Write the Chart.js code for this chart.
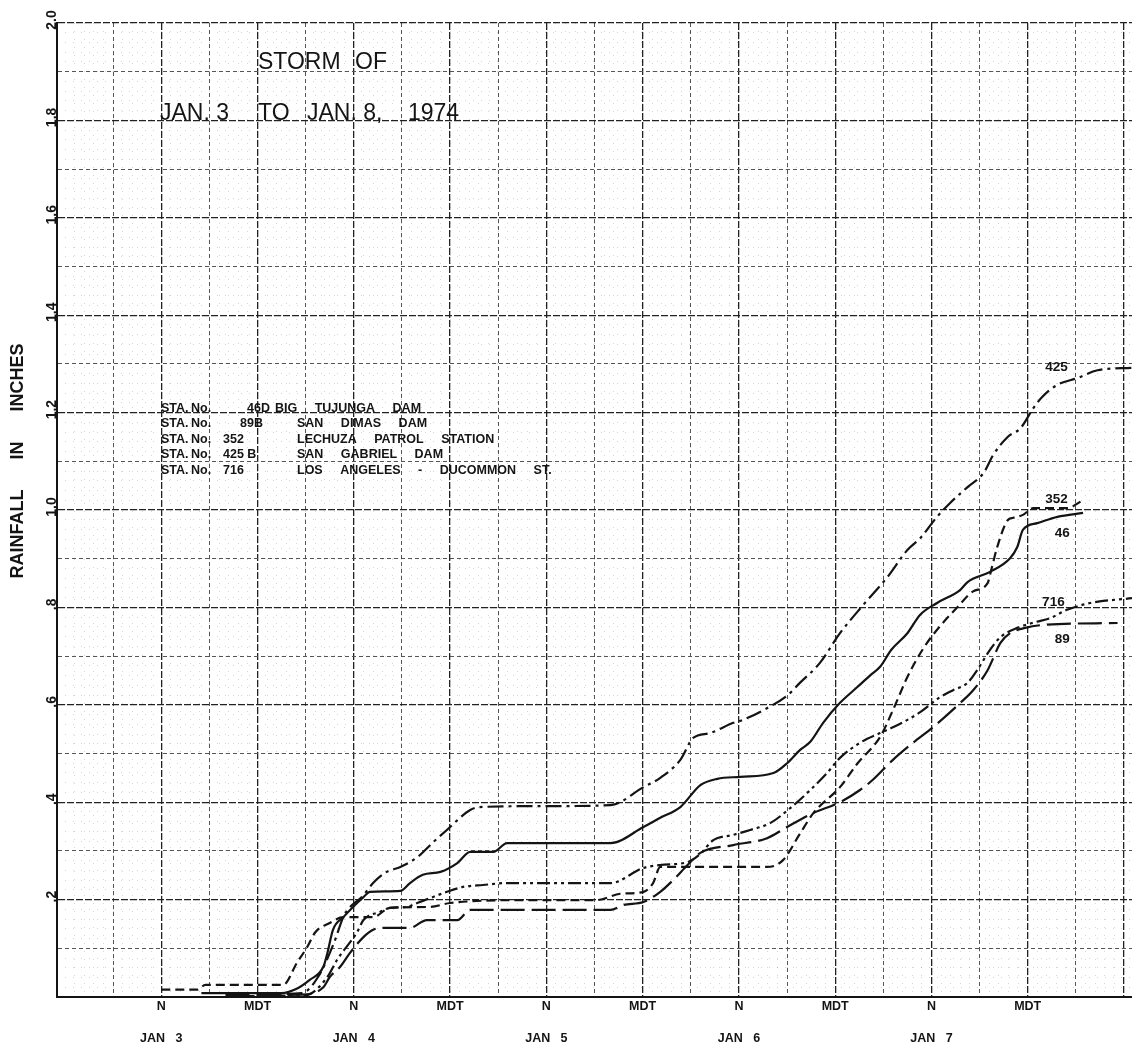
<!DOCTYPE html>
<html>
<head>
<meta charset="utf-8">
<title>Storm of Jan. 3 to Jan. 8, 1974</title>
<script src="https://cdn.jsdelivr.net/npm/chart.js@4.4.1/dist/chart.umd.min.js"></script>
<style>
  html, body { margin: 0; padding: 0; background: #fff; }
  #wrap { width: 1132px; height: 1048px; }
</style>
</head>
<body>
<div id="wrap"><canvas id="rain" width="1132" height="1048"></canvas></div>
<script>
// x = hours after midnight starting Jan 3 (MDT), y = accumulated rainfall in inches
const sta46 = [
  [17, 0.008], [27, 0.008], [29, 0.018], [30.5, 0.035], [32.2, 0.062], [32.7, 0.09], [33.4, 0.138],
  [34.7, 0.164], [35.9, 0.185], [37.2, 0.205], [38, 0.216], [41.8, 0.218], [43, 0.234], [44.6, 0.251],
  [46.8, 0.257], [48.9, 0.275], [50.5, 0.298], [53.4, 0.298], [55.1, 0.316], [68, 0.316], [72.1, 0.349],
  [74.2, 0.368], [76.7, 0.39], [79.2, 0.435], [81.3, 0.448], [84.2, 0.452], [88.3, 0.46], [90, 0.48],
  [91.6, 0.507], [92.9, 0.524], [94.5, 0.563], [96.6, 0.604], [98.8, 0.637], [100.4, 0.661], [101.6, 0.678],
  [103, 0.713], [105, 0.747], [106.6, 0.785], [108.7, 0.809], [111.6, 0.836], [112.5, 0.852], [115.3, 0.873],
  [117.8, 0.901], [118.7, 0.924], [119.4, 0.959], [121.2, 0.973], [123.7, 0.986], [126.9, 0.994]
];
const sta89 = [
  [20, 0.004], [29.5, 0.005], [32.2, 0.02], [33, 0.041], [34.3, 0.062], [35.5, 0.09], [37.2, 0.123],
  [38.4, 0.138], [39.6, 0.142], [43, 0.142], [45.1, 0.158], [48.9, 0.158], [50.5, 0.179], [68, 0.179],
  [69.6, 0.189], [72.1, 0.195], [74.2, 0.216], [75.8, 0.24], [77.6, 0.271], [79.2, 0.296], [83.3, 0.312],
  [87.5, 0.326], [90, 0.349], [93.3, 0.378], [96.6, 0.4], [99.1, 0.425], [100.7, 0.446], [103.2, 0.487],
  [105.7, 0.522], [108.2, 0.554], [111.6, 0.604], [113.2, 0.63], [115, 0.671], [116.6, 0.727],
  [117.8, 0.747], [119.7, 0.758], [122, 0.764], [131.2, 0.768]
];
const sta352 = [
  [12, 0.015], [16.5, 0.015], [17.5, 0.025], [27.2, 0.025], [28.9, 0.07], [30.2, 0.103], [31.2, 0.133],
  [33, 0.152], [34.7, 0.164], [38.4, 0.164], [40.5, 0.183], [45.5, 0.185], [48, 0.193], [58, 0.199],
  [66.3, 0.199], [69.2, 0.212], [72.1, 0.216], [73.3, 0.234], [74.2, 0.267], [87.5, 0.267], [89.5, 0.281],
  [91.6, 0.335], [93.3, 0.378], [96.6, 0.431], [98.8, 0.48], [101.6, 0.534], [103.2, 0.589], [105, 0.657],
  [107, 0.716], [108.7, 0.754], [111.2, 0.8], [113.2, 0.833], [115, 0.85], [115.5, 0.88], [116.2, 0.924],
  [117.5, 0.979], [118.2, 0.984], [119.4, 0.99], [120.7, 1.004], [124.9, 1.004], [126.9, 1.02]
];
const sta425 = [
  [24, 0.006], [29.5, 0.008], [31.5, 0.04], [33.5, 0.11], [34.8, 0.168], [37.2, 0.209], [38.4, 0.234],
  [40.1, 0.257], [41.8, 0.267], [43.9, 0.287], [45.9, 0.318], [47.6, 0.343], [50.5, 0.384], [51.7, 0.39],
  [60.1, 0.392], [68, 0.394], [72.1, 0.431], [74.2, 0.45], [76.7, 0.487], [78.3, 0.532], [80.4, 0.542],
  [83.3, 0.563], [84.5, 0.569], [87.5, 0.593], [90.1, 0.62], [91.6, 0.645], [94.1, 0.686], [96.6, 0.747],
  [99.5, 0.805], [102.5, 0.862], [105, 0.918], [106.6, 0.942], [108.7, 0.986], [110.3, 1.014],
  [112.5, 1.047], [114.5, 1.076], [115.7, 1.113], [117.5, 1.15], [119.1, 1.168], [120.7, 1.209],
  [121.8, 1.232], [123.7, 1.257], [126.2, 1.271], [128.7, 1.287], [133, 1.292]
];
const sta716 = [
  [22, 0.002], [30, 0.004], [32.7, 0.041], [33.9, 0.076], [36.4, 0.133], [37.2, 0.158], [39.3, 0.175],
  [40.5, 0.183], [42.6, 0.185], [43.9, 0.193], [45.5, 0.203], [47.6, 0.216], [49.6, 0.226], [52.1, 0.23],
  [55.1, 0.234], [68, 0.234], [72.1, 0.265], [74.2, 0.271], [77.6, 0.277], [79.2, 0.294], [80.8, 0.322],
  [83.3, 0.333], [85.4, 0.343], [87.9, 0.357], [90.4, 0.388], [92.9, 0.425], [95, 0.46], [96.6, 0.491],
  [99.1, 0.522], [101.6, 0.542], [103.2, 0.554], [105, 0.569], [106.6, 0.585], [109.1, 0.616],
  [110.7, 0.63], [112.5, 0.645], [113.7, 0.671], [115.3, 0.713], [116.6, 0.739], [118.7, 0.758],
  [121, 0.77], [122.8, 0.778], [124.9, 0.795], [127.8, 0.809], [133, 0.819]
];

// axis ticks
const gridHours = [6, 12, 18, 24, 30, 36, 42, 48, 54, 60, 66, 72, 78, 84, 90, 96, 102, 108, 114, 120, 126, 132];
const timeTickHours = [12, 24, 36, 48, 60, 72, 84, 96, 108, 120];
const timeTickLabels = ['N', 'MDT', 'N', 'MDT', 'N', 'MDT', 'N', 'MDT', 'N', 'MDT'];
const dayHours = [12, 36, 60, 84, 108];
const dayLabels = ['JAN   3', 'JAN   4', 'JAN   5', 'JAN   6', 'JAN   7'];
const yGrid = [0, 0.1, 0.2, 0.3, 0.4, 0.5, 0.6, 0.7, 0.8, 0.9, 1.0, 1.1, 1.2, 1.3, 1.4, 1.5, 1.6, 1.7, 1.8, 1.9, 2.0];
const yTickValues = [0.2, 0.4, 0.6, 0.8, 1.0, 1.2, 1.4, 1.6, 1.8, 2.0];
const yTickLabels = ['.2', '.4', '.6', '.8', '1.0', '1.2', '1.4', '1.6', '1.8', '2.0'];

// station labels written next to the curve ends (hour, inches)
const endLabels = [['425', 123.6, 1.294], ['352', 123.6, 1.021], ['46', 124.3, 0.953], ['716', 123.2, 0.811], ['89', 124.3, 0.735]];
const stationRows = [
  ['STA.', 'No.', '46D', 'BIG TUJUNGA DAM'],
  ['STA.', 'No.', '89B', 'SAN DIMAS DAM'],
  ['STA.', 'No.', '352', 'LECHUZA PATROL STATION'],
  ['STA.', 'No.', '425 B', 'SAN GABRIEL DAM'],
  ['STA.', 'No.', '716', 'LOS ANGELES - DUCOMMON ST.']
];

const near = (a, b) => Math.abs(a - b) < 1e-6;
const isMajorHour = v => near(v % 12, 0);
const isMajorInch = v => near(Math.round(v * 10) % 2, 0);

function timeLabel(v) {
  const i = timeTickHours.findIndex(h => near(h, v));
  if (i < 0) return '';
  const d = dayHours.findIndex(h => near(h, v));
  return d < 0 ? timeTickLabels[i] : [timeTickLabels[i], '', dayLabels[d]];
}

const ink = '#141414';
const font = '"Liberation Sans", Arial, sans-serif';

const paperText = {
  id: 'paperText',
  afterDraw(chart) {
    const { ctx, scales: { x, y } } = chart;
    ctx.save();
    ctx.fillStyle = ink;

    // y tick labels, turned like on the sheet
    ctx.font = 'bold 14px ' + font;
    ctx.textAlign = 'center';
    ctx.textBaseline = 'middle';
    yTickValues.forEach((v, i) => {
      ctx.save();
      ctx.translate(52, y.getPixelForValue(v) - 3);
      ctx.rotate(-Math.PI / 2);
      ctx.fillText(yTickLabels[i], 0, 0);
      ctx.restore();
    });

    // axis title
    ctx.save();
    ctx.translate(18, 461);
    ctx.rotate(-Math.PI / 2);
    ctx.font = 'bold 18px ' + font;
    ctx.wordSpacing = '25px';
    ctx.fillText('RAINFALL IN INCHES', 0, 0);
    ctx.restore();

    // heading
    ctx.textAlign = 'left';
    ctx.textBaseline = 'alphabetic';
    ctx.font = '23px ' + font;
    ctx.fillText('STORM', 258, 69);
    ctx.fillText('OF', 355, 69);
    ctx.fillText('JAN. 3', 160, 120);
    ctx.fillText('TO', 258, 120);
    ctx.fillText('JAN. 8,', 307, 120);
    ctx.fillText('1974', 408, 120);

    // station list
    ctx.font = 'bold 12.5px ' + font;
    const numX = [247, 240, 223, 223, 223];
    const nameX = [275, 297, 297, 297, 297];
    stationRows.forEach((r, i) => {
      const by = 411.5 + i * 15.5;
      ctx.fillText(r[0], 161, by);
      ctx.fillText(r[1], 191, by);
      ctx.fillText(r[2], numX[i], by);
      ctx.wordSpacing = '14px';
      ctx.fillText(r[3], nameX[i], by);
      ctx.wordSpacing = '0px';
    });

    // curve labels
    ctx.font = 'bold 13.5px ' + font;
    ctx.textAlign = 'center';
    ctx.textBaseline = 'middle';
    endLabels.forEach(([t, h, v]) => ctx.fillText(t, x.getPixelForValue(h), y.getPixelForValue(v)));
    ctx.restore();
  }
};

const series = (label, pts, dash) => ({
  label,
  data: pts.map(([h, v]) => ({ x: h, y: v })),
  borderColor: ink,
  borderWidth: 2.2,
  borderDash: dash,
  pointRadius: 0,
  fill: false,
  cubicInterpolationMode: 'monotone'
});

const minorTicks = (lo, hi, step) => {
  const t = [];
  for (let v = lo; v <= hi + 1e-9; v += step) t.push({ value: v });
  return t;
};

new Chart(document.getElementById('rain'), {
  type: 'line',
  data: {
    datasets: [
      series('46D Big Tujunga Dam', sta46, []),
      series('89B San Dimas Dam', sta89, [24, 7]),
      series('352 Lechuza Patrol Station', sta352, [9, 5]),
      series('425B San Gabriel Dam', sta425, [16, 5, 3, 5]),
      series('716 Los Angeles - Ducommon St.', sta716, [13, 4, 3, 4, 3, 4])
    ]
  },
  options: {
    responsive: false,
    devicePixelRatio: 1,
    animation: false,
    layout: { padding: { top: 23, right: 0, left: 0, bottom: 0 } },
    plugins: { legend: { display: false }, tooltip: { enabled: false } },
    scales: {
      xMinor: {
        type: 'linear', position: 'bottom', min: -1, max: 133,
        afterBuildTicks: a => { a.ticks = minorTicks(1.2, 133, 1.2); },
        afterFit: a => { a.height = 0; },
        ticks: { display: false },
        grid: { drawTicks: false, color: 'rgba(0,0,0,0.16)', lineWidth: 1 },
        border: { display: false, dash: [1, 7] }
      },
      yMinor: {
        type: 'linear', position: 'left', min: 0, max: 2,
        afterBuildTicks: a => { a.ticks = minorTicks(0.02, 2, 0.02); },
        afterFit: a => { a.width = 0; },
        ticks: { display: false },
        grid: { drawTicks: false, color: 'rgba(0,0,0,0.16)', lineWidth: 1 },
        border: { display: false, dash: [1, 7] }
      },
      x: {
        type: 'linear', position: 'bottom', min: -1, max: 133,
        afterBuildTicks: a => { a.ticks = gridHours.map(v => ({ value: v })); },
        afterFit: a => { a.height = 51; },
        ticks: {
          autoSkip: false, maxRotation: 0, minRotation: 0, padding: 1, color: ink,
          font: { family: font, weight: 'bold', size: 12.5, lineHeight: 1.3 },
          callback: v => timeLabel(v)
        },
        grid: {
          drawTicks: false,
          color: c => (c.tick && isMajorHour(c.tick.value)) ? '#222' : '#555',
          lineWidth: c => (c.tick && isMajorHour(c.tick.value)) ? 1.3 : 1
        },
        border: {
          display: true, color: ink, width: 2,
          dash: c => (c.tick && isMajorHour(c.tick.value)) ? [7, 2] : [4, 3]
        }
      },
      y: {
        type: 'linear', position: 'left', min: 0, max: 2,
        afterBuildTicks: a => { a.ticks = yGrid.map(v => ({ value: v })); },
        afterFit: a => { a.width = 57; },
        ticks: { display: false },
        grid: {
          drawTicks: false,
          color: c => (c.tick && isMajorInch(c.tick.value)) ? '#222' : '#555',
          lineWidth: c => (c.tick && isMajorInch(c.tick.value)) ? 1.3 : 1
        },
        border: {
          display: true, color: ink, width: 2,
          dash: c => (c.tick && isMajorInch(c.tick.value)) ? [7, 2] : [4, 3]
        }
      }
    }
  },
  plugins: [paperText]
});
</script>
</body>
</html>
